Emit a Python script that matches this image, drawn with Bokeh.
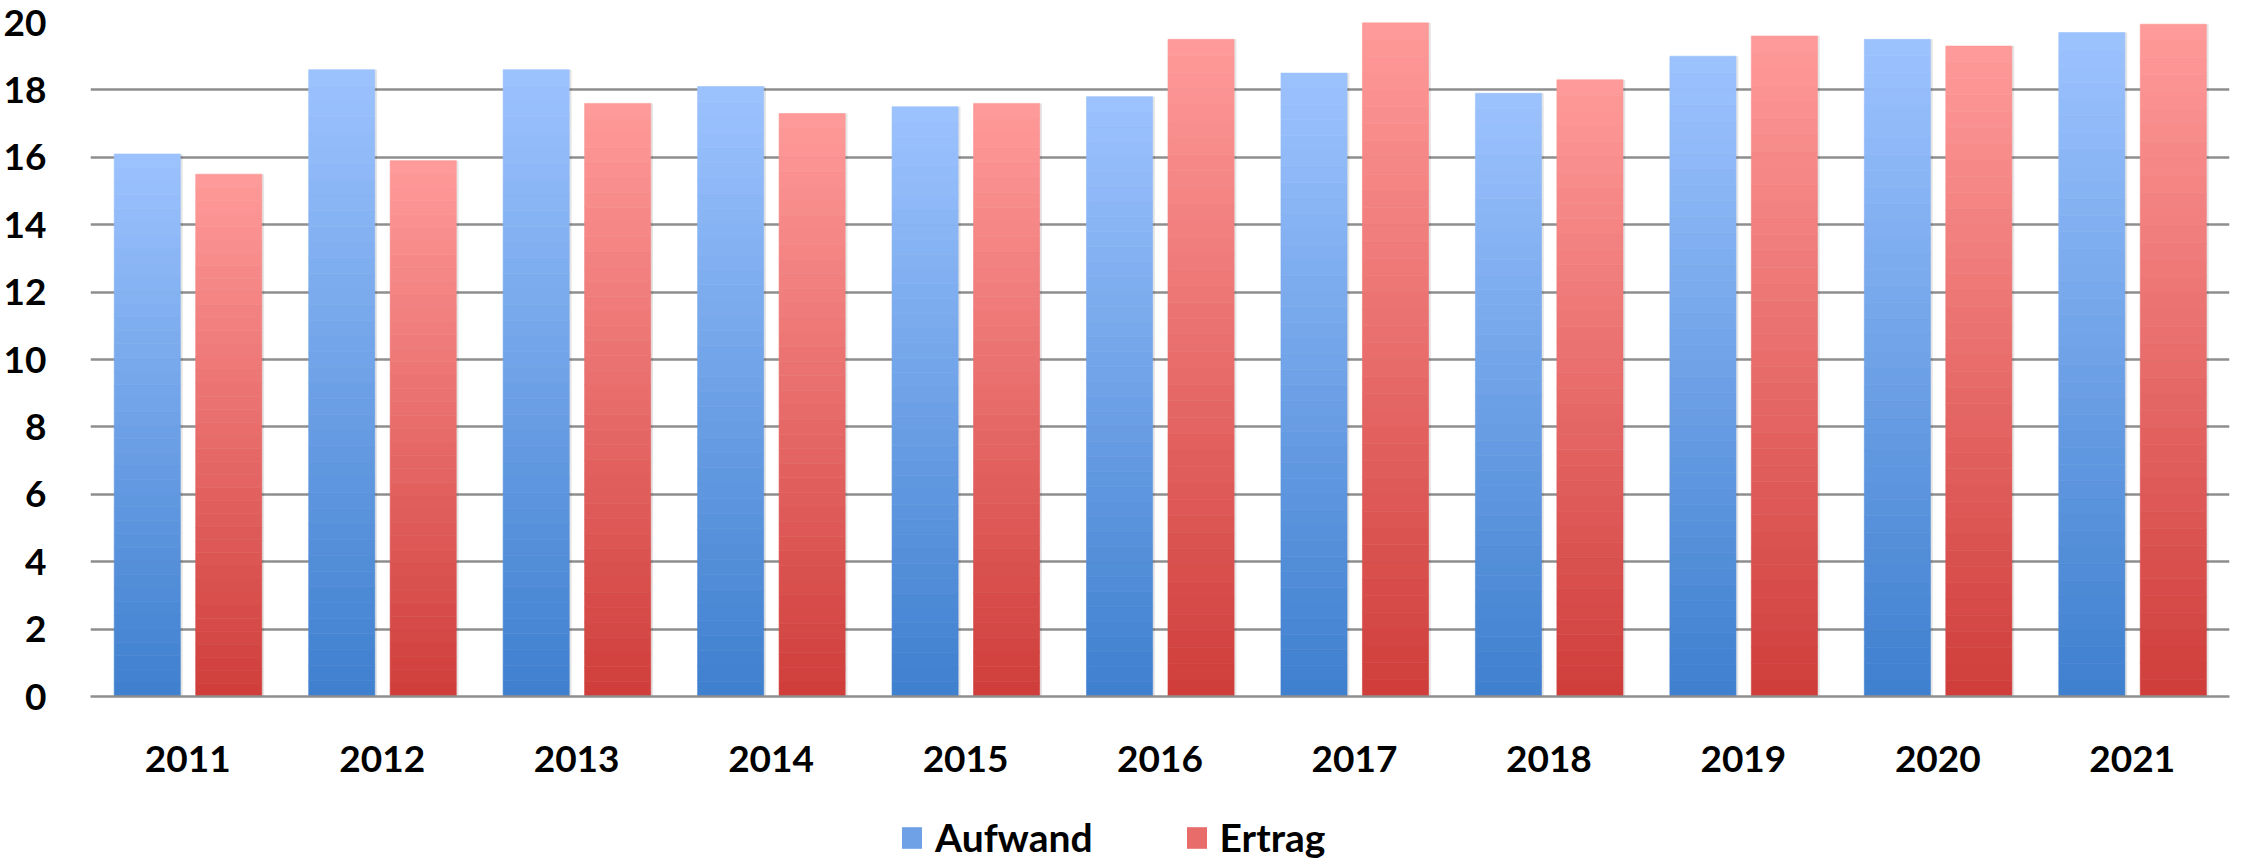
import numpy as np
from bokeh.plotting import figure
from bokeh.layouts import column
from bokeh.models import ColumnDataSource, FactorRange, Range1d, Legend, LegendItem, FixedTicker
from bokeh.transform import dodge
from bokeh.embed import file_html
from bokeh.resources import INLINE

years = ["2011", "2012", "2013", "2014", "2015", "2016", "2017", "2018", "2019", "2020", "2021"]
aufwand = [16.1, 18.6, 18.6, 18.1, 17.5, 17.8, 18.5, 17.9, 19.0, 19.5, 19.7]
ertrag = [15.5, 15.9, 17.6, 17.3, 17.6, 19.5, 20.0, 18.3, 19.6, 19.3, 19.95]
y_ticks = [0, 2, 4, 6, 8, 10, 12, 14, 16, 18, 20]
series_names = ["Aufwand", "Ertrag"]

blue_top, blue_bottom = (157, 195, 255), (62, 127, 206)
red_top, red_bottom = (255, 155, 154), (207, 61, 58)

N = 40


def hexcol(c):
    return "#%02x%02x%02x" % tuple(int(round(v)) for v in c)


def mix(a, b, t):
    return hexcol([a[i] + (b[i] - a[i]) * t for i in range(3)])


def gradient_source(values, c_bottom, c_top):
    xs, bots, tops, cols = [], [], [], []
    for k in range(N):
        col = mix(c_bottom, c_top, (k + 0.5) / N)
        for yr, v in zip(years, values):
            xs.append(yr)
            bots.append(v * k / N)
            tops.append(v * (k + 1) / N)
            cols.append(col)
    return ColumnDataSource(dict(x=xs, bottom=bots, top=tops, color=cols))


p = figure(x_range=FactorRange(*years), y_range=Range1d(0, 20),
           frame_width=2139, frame_height=674, output_backend="svg", toolbar_location=None,
           min_border_left=90, min_border_right=1, min_border_top=22, min_border_bottom=96)
p.outline_line_color = None
p.background_fill_color = "white"

off_b, off_r, bw = -0.208, 0.211, 0.34

# soft shadows
sh_b = ColumnDataSource(dict(x=years, top=aufwand))
sh_r = ColumnDataSource(dict(x=years, top=ertrag))
p.vbar(x=dodge("x", off_b + 0.012, range=p.x_range), top="top", bottom=0, width=bw,
       source=sh_b, fill_color="#000000", fill_alpha=0.10, line_color=None)
p.vbar(x=dodge("x", off_r + 0.012, range=p.x_range), top="top", bottom=0, width=bw,
       source=sh_r, fill_color="#000000", fill_alpha=0.10, line_color=None)

src_b = gradient_source(aufwand, blue_bottom, blue_top)
src_r = gradient_source(ertrag, red_bottom, red_top)
p.vbar(x=dodge("x", off_b, range=p.x_range), top="top", bottom="bottom", width=bw,
       source=src_b, fill_color="color", line_color="color", line_width=0.6)
p.vbar(x=dodge("x", off_r, range=p.x_range), top="top", bottom="bottom", width=bw,
       source=src_r, fill_color="color", line_color="color", line_width=0.6)

p.xgrid.grid_line_color = None
p.ygrid.grid_line_color = "#8e8e8e"
p.ygrid.grid_line_width = 2.5
p.yaxis.ticker = FixedTicker(ticks=y_ticks)

for ax in (p.xaxis[0], p.yaxis[0]):
    ax.major_tick_line_color = None
    ax.minor_tick_line_color = None
    ax.major_label_text_font = "Lato"
    ax.major_label_text_font_style = "bold"
    ax.major_label_text_font_size = "37px"
    ax.major_label_text_color = "black"

p.yaxis.axis_line_color = None
p.yaxis.major_label_standoff = 38
p.xaxis.axis_line_color = "#8e8e8e"
p.xaxis.axis_line_width = 2.5
p.xaxis.major_label_standoff = 43
p.x_range.range_padding = 0
p.x_range.group_padding = 0

# legend strip below the chart (zero-height bars serve only as legend swatches)
lg = figure(width=2230, height=68, output_backend="svg", toolbar_location=None,
            x_axis_type=None, y_axis_type=None, x_range=FactorRange(*years), y_range=Range1d(0, 1),
            min_border_left=0, min_border_right=0, min_border_top=0, min_border_bottom=0)
lg.outline_line_color = None
lg.xgrid.grid_line_color = None
lg.ygrid.grid_line_color = None
r1 = lg.vbar(x=years, top=0, bottom=0, width=bw,
             fill_color=mix(blue_bottom, blue_top, 0.5), line_color=None)
r2 = lg.vbar(x=years, top=0, bottom=0, width=bw,
             fill_color=mix(red_bottom, red_top, 0.5), line_color=None)
legend = Legend(items=[LegendItem(label=series_names[0], renderers=[r1]),
                       LegendItem(label=series_names[1], renderers=[r2])],
                orientation="horizontal", location=(809, 0),
                label_text_font="Lato", label_text_font_style="bold",
                label_text_font_size="39px", label_text_color="black",
                glyph_width=25, glyph_height=27, label_standoff=11, spacing=91,
                border_line_color=None, background_fill_alpha=0,
                padding=0, margin=0)
lg.add_layout(legend, "center")

layout = column(p, lg, spacing=0)
open("out.html", "w").write(file_html(layout, INLINE))
